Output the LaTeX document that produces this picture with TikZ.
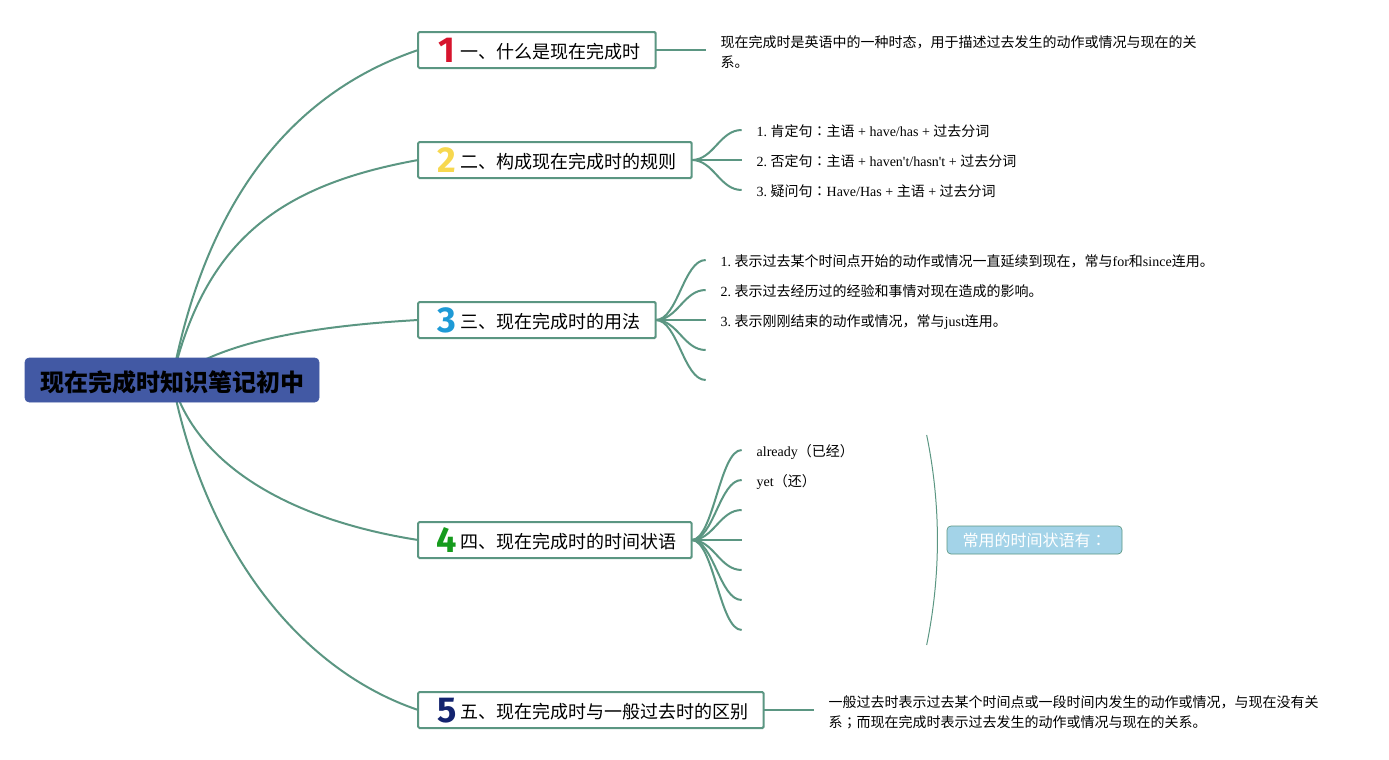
\documentclass[tikz,border=0pt]{standalone}
\usepackage{fontspec}
\usepackage{xcolor}
\setmainfont{Liberation Serif}[Ligatures=TeXOff]
\newfontfamily\zhfont{Noto Sans CJK SC}
\newfontfamily\zhmid{Noto Sans CJK TC}
\newfontfamily\digitfont{Fira Sans}
\newcommand{\zh}[1]{{\zhfont #1}}
\newcommand{\midcolon}{{\zhmid ：}}
\newcommand{\numicon}[2]{\rule{0pt}{13.7pt}\makebox[20.7pt][c]{\smash{\raisebox{-3.4pt}{\fontsize{27}{27}\digitfont\bfseries\textcolor{#1}{#2}}}}}
\usetikzlibrary{positioning,backgrounds}
\definecolor{branchgreen}{RGB}{91,150,130}
\definecolor{rootblue}{RGB}{66,89,164}
\definecolor{notefill}{RGB}{163,211,232}
\definecolor{numred}{RGB}{215,20,45}
\definecolor{numyellow}{RGB}{247,216,79}
\definecolor{numblue}{RGB}{30,154,214}
\definecolor{numgreen}{RGB}{22,155,29}
\definecolor{numnavy}{RGB}{20,36,111}
\frenchspacing

\begin{document}
\begin{tikzpicture}[
    x=0.75pt, y=-0.75pt,
    node distance=55.5pt and 37.5pt,
    rootbox/.style={draw=rootblue, fill=rootblue, rounded corners=3pt, minimum width=220.5pt, minimum height=33pt, inner sep=0pt, font=\fontsize{18}{18}\selectfont\zhfont\bfseries},
    mainbox/.style={draw=branchgreen, line width=1.5pt, fill=white, rounded corners=1pt, minimum height=27pt, inner ysep=0pt, inner xsep=11.2pt, outer sep=0pt, font=\fontsize{13.5}{15}\selectfont\zhfont},
    leaf/.style={inner xsep=11.25pt, inner ysep=0pt, outer sep=0pt, align=left, font=\fontsize{10.5}{15}\selectfont, execute at begin node=\rule{0pt}{11.35pt}},
    notebox/.style={draw=branchgreen, line width=0.5pt, fill=notefill, rounded corners=3pt, minimum width=131.25pt, minimum height=21pt, inner sep=0pt, text=white, font=\fontsize{12}{12}\selectfont\zhfont},
    trunk/.style={draw=branchgreen, line width=1.5pt},
    twig/.style={draw=branchgreen, line width=1.5pt},
    bracket/.style={draw=branchgreen, line width=0.75pt}
]
\useasboundingbox (0,0) rectangle (1389,760);

\node[rootbox] (root) at (172,380) {\rule{0pt}{19pt}现在完成时知识笔记初中};

\node[mainbox, anchor=west] (box1) at (418.2,50) {\numicon{numred}{1}一、什么是现在完成时};
\node[mainbox, below=of box1.south west, anchor=north west] (box2) {\numicon{numyellow}{2}二、构成现在完成时的规则};
\node[mainbox, below=93pt of box2.south west, anchor=north west] (box3) {\numicon{numblue}{3}三、现在完成时的用法};
\node[mainbox, below=138pt of box3.south west, anchor=north west] (box4) {\numicon{numgreen}{4}四、现在完成时的时间状语};
\node[mainbox, below=100.5pt of box4.south west, anchor=north west] (box5) {\numicon{numnavy}{5}五、现在完成时与一般过去时的区别};

\node[leaf, right=of box1.east] (what) {\rule{0pt}{12.2pt}\zh{现在完成时是英语中的一种时态，用于描述过去发生的动作或情况与现在的关}\\\zh{系。}};

\node[leaf, right=of box2.east, yshift=22.5pt] (rule1) {1. \zh{肯定句}\midcolon\zh{主语} + have/has + \zh{过去分词}};
\node[leaf, right=of box2.east] (rule2) {2. \zh{否定句}\midcolon\zh{主语} + haven't/hasn't + \zh{过去分词}};
\node[leaf, right=of box2.east, yshift=-22.5pt] (rule3) {3. \zh{疑问句}\midcolon{}Have/Has + \zh{主语} + \zh{过去分词}};

\node[leaf, right=of box3.east, yshift=45pt] (use1) {1. \zh{表示过去某个时间点开始的动作或情况一直延续到现在，常与}for\zh{和}since\zh{连用。}};
\node[leaf, right=of box3.east, yshift=22.5pt] (use2) {2. \zh{表示过去经历过的经验和事情对现在造成的影响。}};
\node[leaf, right=of box3.east] (use3) {3. \zh{表示刚刚结束的动作或情况，常与}just\zh{连用。}};
\coordinate[right=of box3.east, yshift=-22.5pt] (use4);
\coordinate[right=of box3.east, yshift=-45pt] (use5);

\node[leaf, right=of box4.east, yshift=67.5pt] (adv1) {already\zh{（已经）}};
\node[leaf, right=of box4.east, yshift=45pt] (adv2) {yet\zh{（还）}};
\coordinate[right=of box4.east, yshift=22.5pt] (adv3);
\coordinate[right=of box4.east] (adv4);
\coordinate[right=of box4.east, yshift=-22.5pt] (adv5);
\coordinate[right=of box4.east, yshift=-45pt] (adv6);
\coordinate[right=of box4.east, yshift=-67.5pt] (adv7);

\node[notebox, right=153.75pt of adv4] (note) {常用的时间状语有\midcolon};
\coordinate (notetop) at ([shift={(-20,-105)}]note.west);
\coordinate (notebot) at ([shift={(-20,105)}]note.west);

\node[leaf, right=of box5.east] (diff) {\rule{0pt}{12.2pt}\zh{一般过去时表示过去某个时间点或一段时间内发生的动作或情况，与现在没有关}\\\zh{系}{\zhmid ；}\zh{而现在完成时表示过去发生的动作或情况与现在的关系。}};

\begin{scope}[on background layer]
\draw[trunk] (root.center) .. controls (208,190) and (300,90) .. (box1.west);
\draw[trunk] (root.center) .. controls (205,240) and (280,185) .. (box2.west);
\draw[trunk] (root.center) .. controls (222,338) and (330,325) .. (box3.west);
\draw[trunk] (root.center) .. controls (195,465) and (290,520) .. (box4.west);
\draw[trunk] (root.center) .. controls (205,550) and (300,670) .. (box5.west);
\end{scope}

\draw[twig] (box1.east) -- (what.west);

\draw[twig] (box2.east) .. controls +(22,0) and +(-22,0) .. (rule1.west);
\draw[twig] (box2.east) -- (rule2.west);
\draw[twig] (box2.east) .. controls +(22,0) and +(-22,0) .. (rule3.west);

\draw[twig] (box3.east) .. controls +(22,0) and +(-22,0) .. (use1.west);
\draw[twig] (box3.east) .. controls +(22,0) and +(-22,0) .. (use2.west);
\draw[twig] (box3.east) -- (use3.west);
\draw[twig] (box3.east) .. controls +(22,0) and +(-22,0) .. (use4);
\draw[twig] (box3.east) .. controls +(22,0) and +(-22,0) .. (use5);

\draw[twig] (box4.east) .. controls +(22,0) and +(-22,0) .. (adv1.west);
\draw[twig] (box4.east) .. controls +(22,0) and +(-22,0) .. (adv2.west);
\draw[twig] (box4.east) .. controls +(22,0) and +(-22,0) .. (adv3);
\draw[twig] (box4.east) -- (adv4);
\draw[twig] (box4.east) .. controls +(22,0) and +(-22,0) .. (adv5);
\draw[twig] (box4.east) .. controls +(22,0) and +(-22,0) .. (adv6);
\draw[twig] (box4.east) .. controls +(22,0) and +(-22,0) .. (adv7);

\draw[bracket] (notetop) .. controls (941,505) and (941,575) .. (notebot);

\draw[twig] (box5.east) -- (diff.west);

\end{tikzpicture}
\end{document}
